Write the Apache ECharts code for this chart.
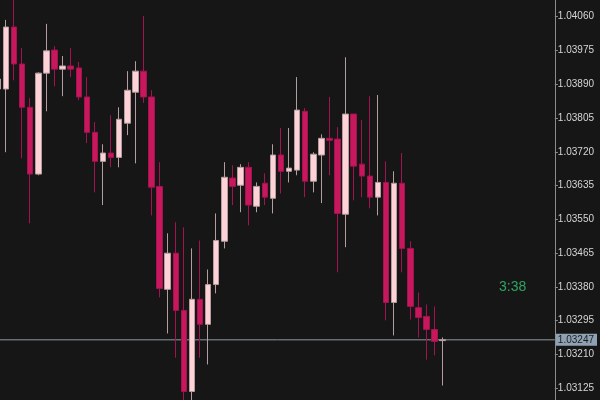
<!DOCTYPE html>
<html>
<head>
<meta charset="utf-8">
<script src="https://cdn.jsdelivr.net/npm/echarts@6/dist/echarts.min.js"></script>
<style>
  html, body { margin: 0; padding: 0; background: #161616; }
  #chart { width: 600px; height: 400px; }
</style>
</head>
<body>
<div id="chart"></div>
<script>
const opens = [1.03878, 1.03878, 1.04034, 1.03941, 1.03832, 1.03664, 1.03918, 1.03976, 1.03928, 1.03936,
  1.03931, 1.03858, 1.03769, 1.03696, 1.03717, 1.03706, 1.03792, 1.03870, 1.03923, 1.03858,
  1.03633, 1.03374, 1.03465, 1.03321, 1.03117, 1.03349, 1.03286, 1.03386, 1.03495, 1.03654,
  1.03636, 1.03681, 1.03583, 1.03641, 1.03603, 1.03712, 1.03671, 1.03674, 1.03822, 1.03646,
  1.03712, 1.03754, 1.03752, 1.03563, 1.03815, 1.03689, 1.03659, 1.03606, 1.03643, 1.03341,
  1.03641, 1.03477, 1.03328, 1.03306, 1.03273, 1.03245]
const closes = [1.03903, 1.04034, 1.03941, 1.03832, 1.03664, 1.03918, 1.03974, 1.03928, 1.03936, 1.03928,
  1.03858, 1.03769, 1.03696, 1.03717, 1.03706, 1.03802, 1.03875, 1.03923, 1.03858, 1.03631,
  1.03376, 1.03465, 1.03321, 1.03117, 1.03349, 1.03286, 1.03386, 1.03497, 1.03656, 1.03633,
  1.03681, 1.03586, 1.03633, 1.03606, 1.03712, 1.03671, 1.03679, 1.03825, 1.03646, 1.03714,
  1.03754, 1.03749, 1.03565, 1.03815, 1.03684, 1.03659, 1.03606, 1.03643, 1.03341, 1.03641,
  1.03477, 1.03331, 1.03303, 1.03273, 1.03243, 1.03247]
const lows = [1.03870, 1.03719, 1.03900, 1.03704, 1.03540, 1.03661, 1.03822, 1.03885, 1.03860, 1.03908,
  1.03850, 1.03742, 1.03618, 1.03586, 1.03681, 1.03681, 1.03762, 1.03691, 1.03843, 1.03560,
  1.03354, 1.03263, 1.03202, 1.03090, 1.03090, 1.03202, 1.03185, 1.03364, 1.03477, 1.03586,
  1.03568, 1.03535, 1.03568, 1.03586, 1.03565, 1.03615, 1.03643, 1.03661, 1.03606, 1.03618,
  1.03591, 1.03661, 1.03417, 1.03480, 1.03598, 1.03606, 1.03578, 1.03560, 1.03296, 1.03258,
  1.03417, 1.03298, 1.03253, 1.03197, 1.03208, 1.03132]
const highs = [1.03915, 1.04052, 1.04110, 1.03981, 1.03855, 1.03920, 1.04042, 1.03986, 1.03961, 1.03981,
  1.03946, 1.03908, 1.03795, 1.03739, 1.03812, 1.03832, 1.03923, 1.03948, 1.04062, 1.03875,
  1.03694, 1.03515, 1.03543, 1.03530, 1.03477, 1.03497, 1.03424, 1.03565, 1.03694, 1.03686,
  1.03689, 1.03694, 1.03643, 1.03666, 1.03739, 1.03780, 1.03780, 1.03908, 1.03830, 1.03719,
  1.03764, 1.03858, 1.03782, 1.03958, 1.03815, 1.03800, 1.03860, 1.03863, 1.03696, 1.03671,
  1.03717, 1.03495, 1.03366, 1.03336, 1.03331, 1.03253]

const priceTicks = [1.04060, 1.03975, 1.03890, 1.03805, 1.03720, 1.03635,
  1.03550, 1.03465, 1.03380, 1.03295, 1.03210, 1.03125]
const lastPrice = 1.03247
const timer = '3:38'

// visible window: bar 0 is cut by the left edge, room left on the right
const xMin = 0.26
const xMax = 68.87
const yMin = 1.030956
const yMax = 1.041020

const candles = opens.map((o, i) => [i, o, closes[i], lows[i], highs[i]])

const chart = echarts.init(document.getElementById('chart'))
chart.setOption({
  backgroundColor: '#161616',
  animation: false,
  grid: { left: 0, right: 45, top: 0, bottom: 0 },
  xAxis: { type: 'value', min: xMin, max: xMax, show: false },
  yAxis: [
    {
      type: 'value', position: 'right', min: yMin, max: yMax,
      splitLine: { show: false },
      axisLine: { show: true, onZero: false, lineStyle: { color: '#8c8c8c', width: 1 } },
      axisTick: { show: true, length: 3, customValues: priceTicks, lineStyle: { color: '#8c8c8c' } },
      axisLabel: {
        customValues: priceTicks, margin: 3, color: '#d6d6d6',
        fontFamily: 'Liberation Sans', fontSize: 10,
        formatter: v => v.toFixed(5)
      }
    },
    {
      type: 'value', position: 'right', min: yMin, max: yMax,
      splitLine: { show: false },
      axisLine: { show: false, onZero: false },
      axisTick: { show: false },
      axisLabel: {
        customValues: [lastPrice], margin: 1, color: '#1c1c1c',
        fontFamily: 'Liberation Sans', fontSize: 10,
        backgroundColor: '#8fa2b5', padding: [1, 3, 1, 2],
        formatter: v => v.toFixed(5)
      }
    }
  ],
  graphic: [{
    type: 'text', left: 499, top: 280,
    style: { text: timer, fill: '#2fa561', font: '14px Liberation Sans' }
  }],
  series: [
    {
      // current price line across the whole window
      type: 'line',
      data: [[xMin, lastPrice], [xMax, lastPrice]],
      showSymbol: false,
      silent: true,
      z: 1,
      lineStyle: { color: '#8a9ba2', width: 1 }
    },
    {
      type: 'candlestick',
      data: candles,
      encode: { x: 0, y: [1, 2, 3, 4] },
      barWidth: 6,
      clip: false,
      z: 2,
      itemStyle: {
        color: '#ffd2d7',
        color0: '#c8185d',
        borderColor: '#b39d9f',
        borderColor0: '#a51250',
        borderWidth: 1
      }
    }
  ]
})
</script>
</body>
</html>
